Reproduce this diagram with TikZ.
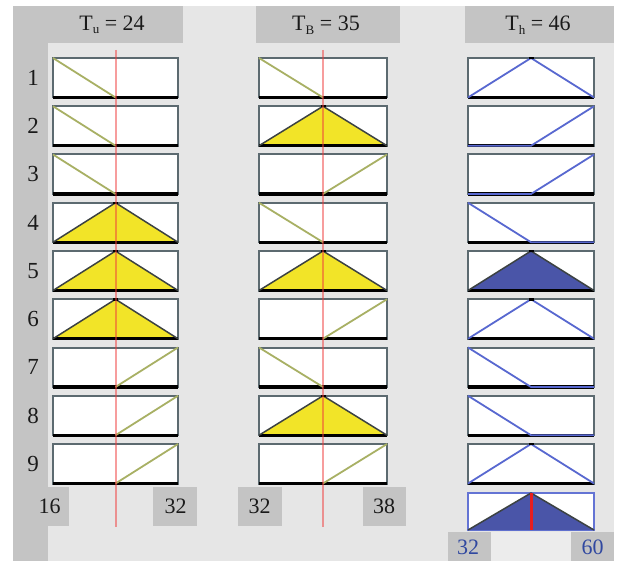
\documentclass[tikz,border=0pt]{standalone}
\usepackage{fontspec}
\setmainfont{Liberation Serif}
\definecolor{bgl}{RGB}{230,230,230}
\definecolor{dk}{RGB}{196,196,196}
\definecolor{mid}{RGB}{236,236,236}
\definecolor{boxgray}{RGB}{92,106,112}
\definecolor{olivemf}{RGB}{168,176,100}
\definecolor{yel}{RGB}{242,228,40}
\definecolor{edgedk}{RGB}{60,66,66}
\definecolor{bluemf}{RGB}{88,104,208}
\definecolor{bluefill}{RGB}{74,85,168}
\definecolor{blueborder}{RGB}{100,116,212}
\definecolor{redl}{RGB}{240,60,60}
\definecolor{redout}{RGB}{232,30,30}
\definecolor{txt}{RGB}{26,26,26}
\definecolor{bluetxt}{RGB}{48,72,160}
\newcommand{\subt}[1]{\raisebox{-0.35ex}{\fontsize{13}{13}\selectfont #1}}
\newcommand{\btm}[1]{\draw[btmline] (#1.south west) -- (#1.south east);}
\newcommand{\apex}[1]{\draw[line width=2.5pt,black] ([xshift=-2.5pt]#1.north) -- ([xshift=2.5pt]#1.north);}
\newcommand{\mfZ}[1]{\btm{#1}\draw[inmf] (#1.north west) -- (#1.south);}
\newcommand{\mfS}[1]{\btm{#1}\draw[inmf] (#1.south) -- (#1.north east);}
\newcommand{\mfY}[1]{\fill[yel] (#1.south west) -- (#1.north) -- (#1.south east) -- cycle;\btm{#1}\draw[triedge] (#1.south west) -- (#1.north) -- (#1.south east);\apex{#1}}
\newcommand{\mfZb}[1]{\btm{#1}\draw[outmf] (#1.north west) -- (#1.south) -- (#1.south east);}
\newcommand{\mfSb}[1]{\btm{#1}\draw[outmf] (#1.south west) -- (#1.south) -- (#1.north east);}
\newcommand{\mfTb}[1]{\btm{#1}\draw[outmf] (#1.south west) -- (#1.north) -- (#1.south east);\apex{#1}}
\newcommand{\mfFb}[1]{\fill[bluefill] (#1.south west) -- (#1.north) -- (#1.south east) -- cycle;\btm{#1}\draw[triedge] (#1.south west) -- (#1.north) -- (#1.south east);\apex{#1}}
\begin{document}
\begin{tikzpicture}[x=1pt,y=-1pt,
  mfbox/.style={draw=boxgray, line width=2pt, fill=white, minimum height=39.5pt, inner sep=0pt, outer sep=0pt},
  btmline/.style={line width=3.2pt, black},
  inmf/.style={olivemf, line width=1.8pt},
  outmf/.style={bluemf, line width=1.8pt},
  triedge/.style={edgedk, line width=1.5pt, line join=round},
  lbl/.style={font=\fontsize{22}{24}\selectfont, text=txt, inner sep=0pt},
  rowlbl/.style={font=\fontsize{23}{25}\selectfont, text=txt, inner sep=0pt},
  bluelbl/.style={font=\fontsize{22}{24}\selectfont, text=bluetxt, inner sep=0pt},
  redline/.style={redl, opacity=0.5, line width=2pt}]
\useasboundingbox (0,0) rectangle (617,561);
% background
\fill[bgl] (13,6) rectangle (614,561);
\fill[dk] (13,6) rectangle (48,561);
\fill[dk] (13,6) rectangle (183,43);
\fill[dk] (256,6) rectangle (400,43);
\fill[dk] (465,6) rectangle (614,43);
\fill[dk] (48,487) rectangle (69,526);
\fill[dk] (153,487) rectangle (197,526);
\fill[dk] (238,487) rectangle (282,526);
\fill[dk] (363,487) rectangle (406,526);
\fill[dk] (448,532) rectangle (491,561);
\fill[mid] (491,532) rectangle (571,561);
\fill[dk] (571,532) rectangle (614,561);
% headers
\node[lbl] (h1) at (112,25) {T\subt{u} = 24};
\node[lbl] (h2) at (326,25) {T\subt{B} = 35};
\node[lbl] (h3) at (538,25) {T\subt{h} = 46};
% rows
\foreach \i/\a/\b/\c in {1/Z/Z/Tb, 2/Z/Y/Sb, 3/Z/S/Sb, 4/Y/Z/Zb, 5/Y/Y/Fb, 6/Y/S/Tb, 7/S/Z/Zb, 8/S/Y/Zb, 9/S/S/Tb}{
  \pgfmathsetmacro\yy{77.75+(\i-1)*48.25}
  \node[rowlbl] (l\i) at (33,\yy) {\i};
  \node[mfbox, minimum width=125pt] (a\i) at (115.5,\yy) {};
  \csname mf\a\endcsname{a\i}
  \node[mfbox, minimum width=128pt] (b\i) at (323,\yy) {};
  \csname mf\b\endcsname{b\i}
  \node[mfbox, minimum width=126pt] (c\i) at (531,\yy) {};
  \csname mf\c\endcsname{c\i}
}
% output box
\node[mfbox, draw=blueborder, line width=1.5pt, minimum width=126pt, minimum height=37pt] (c10) at (531,511.5) {};
\fill[bluefill] (c10.south west) -- (c10.north) -- (c10.south east) -- cycle;
\draw[triedge] (c10.south west) -- (c10.north) -- (c10.south east);
\draw[redout, line width=3pt] (c10.north) -- (c10.south);
% red input lines
\coordinate (ra) at (115.5,50);
\coordinate (rb) at (115.5,527);
\coordinate (rc) at (323,50);
\coordinate (rd) at (323,527);
\draw[redline] (ra) -- (rb);
\draw[redline] (rc) -- (rd);
% range labels
\node[lbl] (n16) at (49.5,506.5) {16};
\node[lbl] (n32a) at (175.5,506.5) {32};
\node[lbl] (n32b) at (259.5,506.5) {32};
\node[lbl] (n38) at (384,506.5) {38};
\node[bluelbl] (n32c) at (468,547) {32};
\node[bluelbl] (n60) at (592.5,547) {60};
\end{tikzpicture}
\end{document}
